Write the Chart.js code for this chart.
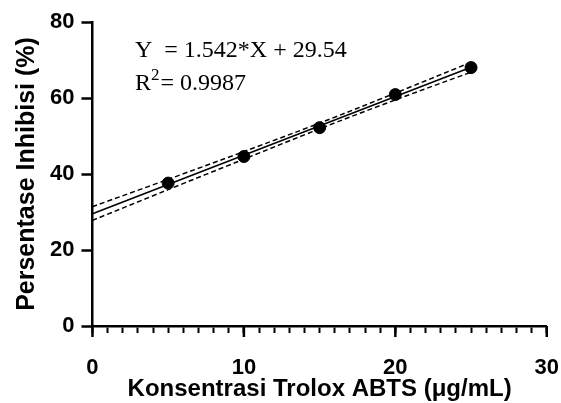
<!DOCTYPE html>
<html>
<head>
<meta charset="utf-8">
<script src="https://cdn.jsdelivr.net/npm/chart.js@4"></script>
<style>
  body { margin: 0; background: #fff; }
  #c { display: block; }
</style>
</head>
<body>
<canvas id="c" width="561" height="403"></canvas>
<script>
// measured points
const concX = [5, 10, 15, 20, 25];
const inhib = [37.6, 44.6, 52.2, 60.9, 68.0];

// regression line (Y = 1.542*X + 29.54) end points
const fitX = [0, 25];
const fitY = [29.54, 68.09];

// 95% band
const bandX = [0, 5, 10, 15, 20, 25];
const bandUpper = [31.4, 38.6, 45.9, 53.4, 61.3, 69.4];
const bandLower = [27.8, 35.9, 43.9, 51.9, 59.5, 66.8];

const xTickLabels = [0, 10, 20, 30];
const xMinorStep = 1;
const yTickLabels = [0, 20, 40, 60, 80];

function pts(xs, ys) {
    return xs.map((x, i) => ({ x: x, y: ys[i] }));
}

// longer ticks for the labelled x values
const majorTicks = {
    id: "majorTicks",
    afterDraw(chart) {
        const xs = chart.scales.x;
        const c = chart.ctx;
        const y0 = chart.chartArea.bottom;
        c.save();
        c.strokeStyle = "#000";
        c.lineWidth = 2.5;
        xTickLabels.forEach(v => {
            const px = xs.getPixelForValue(v);
            c.beginPath();
            c.moveTo(px, y0);
            c.lineTo(px, y0 + 11);
            c.stroke();
        });
        c.restore();
    }
};

const equation = {
    id: "equation",
    afterDraw(chart) {
        const c = chart.ctx;
        const serif = "'Liberation Serif', 'Times New Roman', serif";
        c.save();
        c.fillStyle = "#000";
        c.font = "24px " + serif;
        c.fillText("Y  = 1.542*X + 29.54", 135, 57);
        c.fillText("R", 135, 90);
        const w = c.measureText("R").width;
        c.font = "17px " + serif;
        c.fillText("2", 135 + w, 80);
        const w2 = c.measureText("2").width;
        c.font = "24px " + serif;
        c.fillText("= 0.9987", 135 + w + w2 + 1, 90);
        c.restore();
    }
};

const ctx = document.getElementById("c").getContext("2d");
new Chart(ctx, {
    type: "scatter",
    data: {
        datasets: [
            {
                data: pts(bandX, bandUpper),
                showLine: true,
                borderColor: "#000",
                borderWidth: 1.5,
                borderDash: [5, 3],
                pointRadius: 0,
                tension: 0.3
            },
            {
                data: pts(bandX, bandLower),
                showLine: true,
                borderColor: "#000",
                borderWidth: 1.5,
                borderDash: [5, 3],
                pointRadius: 0,
                tension: 0.3
            },
            {
                data: pts(fitX, fitY),
                showLine: true,
                borderColor: "#000",
                borderWidth: 1.5,
                pointRadius: 0
            },
            {
                data: pts(concX, inhib),
                showLine: false,
                backgroundColor: "#000",
                borderColor: "#000",
                pointRadius: 6
            }
        ]
    },
    options: {
        responsive: false,
        animation: false,
        clip: false,
        layout: { padding: { top: 22, right: 0, left: 15, bottom: 2 } },
        plugins: {
            legend: { display: false },
            tooltip: { enabled: false }
        },
        scales: {
            x: {
                min: 0,
                max: 30,
                afterBuildTicks: (s) => {
                    const t = [];
                    for (let v = 0; v <= 30; v += xMinorStep) t.push({ value: v });
                    s.ticks = t;
                },
                border: { color: "#000", width: 2.5 },
                grid: { drawOnChartArea: false, tickLength: 7, tickColor: "#000", tickWidth: 2 },
                ticks: {
                    color: "#000",
                    autoSkip: false,
                    maxRotation: 0,
                    padding: 2,
                    callback: (v) => xTickLabels.includes(v) ? v : "",
                    font: { family: "'Liberation Sans', Arial", size: 22, weight: "bold", lineHeight: 3.0 }
                },
                title: {
                    display: true,
                    text: "Konsentrasi Trolox ABTS (μg/mL)",
                    color: "#000",
                    padding: { top: -26, bottom: 0 },
                    font: { family: "'Liberation Sans', Arial", size: 24, weight: "bold", lineHeight: 1 }
                }
            },
            y: {
                min: 0,
                max: 80,
                afterBuildTicks: (s) => { s.ticks = yTickLabels.map(v => ({ value: v })); },
                border: { color: "#000", width: 2.5 },
                grid: { drawOnChartArea: false, tickLength: 11, tickColor: "#000", tickWidth: 2.5 },
                ticks: { color: "#000", padding: 7, font: { family: "'Liberation Sans', Arial", size: 22, weight: "bold" } },
                title: {
                    display: true,
                    text: "Persentase Inhibisi (%)",
                    color: "#000",
                    padding: { top: 0, bottom: 3 },
                    font: { family: "'Liberation Sans', Arial", size: 25, weight: "bold", lineHeight: 1 }
                }
            }
        }
    },
    plugins: [majorTicks, equation]
});
</script>
</body>
</html>
